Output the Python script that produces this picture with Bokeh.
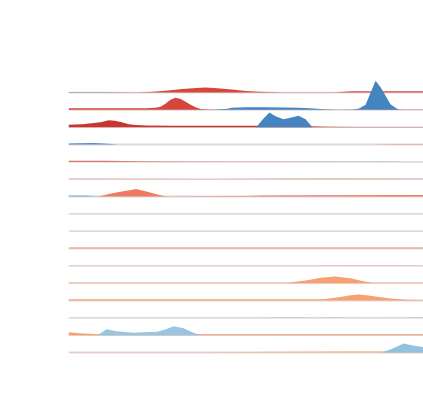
from bokeh.plotting import figure
from bokeh.models import Range1d, ColumnDataSource
from bokeh.embed import file_html
from bokeh.resources import INLINE

# ---- data: 16 ridge rows, each with a warm and a cool density series ----
# x positions (0..100) and density heights for each series
r00_warm_x = [0, 20, 23.9, 28, 32, 36, 38.6, 42, 46, 50, 54, 60, 75, 80, 90, 100]
r00_warm_h = [0.2, 0.4, 0.8, 2, 3.5, 4.5, 5, 4.2, 3, 1.5, 0.8, 0.4, 0.3, 1.2, 1.3, 1.3]
r00_cool_x = [0, 10, 18]
r00_cool_h = [0.3, 0.2, 0]

r01_warm_x = [0, 22, 24.5, 25.9, 27.3, 28.7, 30.1, 31.5, 33, 34.4, 35.8, 37.2, 40, 45, 100]
r01_warm_h = [1.5, 1.5, 2, 3, 6, 10, 12, 11, 8, 5, 2.5, 0.8, 0.3, 0.2, 0.3]
r01_cool_x = [40, 44.8, 46, 50, 55, 60, 65, 68, 72, 76, 80, 81.7, 83.7, 84.5, 86.5, 88, 90.7, 92.1, 93, 95]
r01_cool_h = [0, 1, 2, 2.5, 2.5, 2.3, 2, 1.5, 0.6, 0.2, 0.3, 1, 5, 12, 29, 22, 5.5, 2, 0.3, 0]

r02_warm_x = [0, 4, 9, 11.3, 13, 15, 17, 19, 22, 30, 50, 62, 68, 72, 80, 100]
r02_warm_h = [2.5, 3, 5, 7, 6.5, 5, 3, 2.2, 1.6, 1.5, 1.4, 1.4, 1, 0.4, 0.1, 0.1]
r02_cool_x = [52.9, 54.5, 56.6, 58.3, 60.6, 62.5, 64.8, 66.8, 68.7]
r02_cool_h = [0, 7, 14.7, 11, 8, 9.5, 11.4, 8, 0]

r03_warm_x = [85, 92, 100]
r03_warm_h = [0, 0.4, 0.5]
r03_cool_x = [0, 3, 7, 10, 14]
r03_cool_h = [1, 1.2, 1.5, 1, 0]

r04_warm_x = [0, 10, 20, 35, 100]
r04_warm_h = [1.2, 1.2, 0.6, 0.3, 0.2]
r04_cool_x = [62, 70, 80, 90, 95]
r04_cool_h = [0, 0.4, 0.3, 0.5, 0]

r05_warm_x = [0, 40, 73, 100]
r05_warm_h = [0.4, 0.3, 0.6, 0.4]
r05_cool_x = []
r05_cool_h = []

r06_warm_x = [8, 9, 12, 15, 18, 19, 22, 25, 27.3, 30, 50, 55, 70, 100]
r06_warm_h = [0, 0.5, 3, 5, 6.8, 7.4, 5, 2, 0.3, 0.3, 0.6, 1, 1.2, 1.4]
r06_cool_x = [0, 5, 9]
r06_cool_h = [1, 1, 0]

r07_warm_x = []
r07_warm_h = []
r07_cool_x = []
r07_cool_h = []

r08_warm_x = []
r08_warm_h = []
r08_cool_x = []
r08_cool_h = []

r09_warm_x = [0, 50, 100]
r09_warm_h = [0.9, 0.9, 0.9]
r09_cool_x = [96, 100]
r09_cool_h = [0, 0.4]

r10_warm_x = [0, 70, 80, 100]
r10_warm_h = [0.4, 0.4, 0.6, 0.4]
r10_cool_x = []
r10_cool_h = []

r11_warm_x = [0, 55, 61.7, 67.3, 71, 75.2, 79.4, 83.1, 85.6, 90, 100]
r11_warm_h = [0.3, 0.3, 0.4, 3, 5.5, 6.7, 5, 2, 0.5, 0.3, 0.3]
r11_cool_x = []
r11_cool_h = []

r12_warm_x = [0, 60, 70, 71.8, 76.6, 79, 81.7, 84, 86.5, 90.7, 95.5, 100]
r12_warm_h = [1.2, 1.2, 1.2, 1.3, 3.5, 5, 6, 5.3, 4, 2, 0.8, 0.5]
r12_cool_x = []
r12_cool_h = []

r13_warm_x = [0, 100]
r13_warm_h = [0.2, 0.2]
r13_cool_x = [50, 55, 62, 70, 75, 78, 85, 95, 100]
r13_cool_h = [0, 0.3, 0.5, 0.3, 0.5, 0.3, 0.2, 0.3, 0.8]

r14_warm_x = [0, 3, 8.5, 12, 20, 100]
r14_warm_h = [3, 2, 0.9, 0.9, 0.8, 0.8]
r14_cool_x = [8.2, 10.7, 13.5, 16, 18.3, 21.1, 25, 27.5, 29.6, 32.4, 35.2, 37.2]
r14_cool_h = [0, 6, 3.8, 3.2, 2.5, 3, 3.5, 6, 9, 7, 2.5, 0]

r15_warm_x = [0, 40, 60, 80, 100]
r15_warm_h = [0.2, 0.3, 0.7, 1, 1]
r15_cool_x = [87.9, 90.7, 94.4, 97, 100]
r15_cool_h = [0, 3, 9, 7, 5.5]

warm_colors = ["#d6473b", "#d6473b", "#c8372f", "#e49484", "#d8604f", "#e8a090",
               "#ee7a62", "#f0a890", "#f0a890", "#f09a80", "#f4b49a", "#f7a072",
               "#f7a072", "#f5b597", "#f7a072", "#f7a880"]
cool_colors = ["#4a88c0", "#4484c1", "#4484c1", "#4e8bc4", "#a8cfe4", "#a8cfe4",
               "#7aaed6", "#a8cfe4", "#a8cfe4", "#a8cfe4", "#a8cfe4", "#a8cfe4",
               "#a8cfe4", "#a8cfe4", "#96c6e1", "#92c2df"]

rows = [
    (r00_warm_x, r00_warm_h, r00_cool_x, r00_cool_h),
    (r01_warm_x, r01_warm_h, r01_cool_x, r01_cool_h),
    (r02_warm_x, r02_warm_h, r02_cool_x, r02_cool_h),
    (r03_warm_x, r03_warm_h, r03_cool_x, r03_cool_h),
    (r04_warm_x, r04_warm_h, r04_cool_x, r04_cool_h),
    (r05_warm_x, r05_warm_h, r05_cool_x, r05_cool_h),
    (r06_warm_x, r06_warm_h, r06_cool_x, r06_cool_h),
    (r07_warm_x, r07_warm_h, r07_cool_x, r07_cool_h),
    (r08_warm_x, r08_warm_h, r08_cool_x, r08_cool_h),
    (r09_warm_x, r09_warm_h, r09_cool_x, r09_cool_h),
    (r10_warm_x, r10_warm_h, r10_cool_x, r10_cool_h),
    (r11_warm_x, r11_warm_h, r11_cool_x, r11_cool_h),
    (r12_warm_x, r12_warm_h, r12_cool_x, r12_cool_h),
    (r13_warm_x, r13_warm_h, r13_cool_x, r13_cool_h),
    (r14_warm_x, r14_warm_h, r14_cool_x, r14_cool_h),
    (r15_warm_x, r15_warm_h, r15_cool_x, r15_cool_h),
]

SCALE = 1 / 17.33  # density -> row units
n = len(rows)

p = figure(width=423, height=413, output_backend="svg", toolbar_location=None,
           x_range=Range1d(0, 100), y_range=Range1d(-3.52, 20.31),
           min_border_left=68, min_border_right=0, min_border_top=0, min_border_bottom=0)
p.axis.visible = False
p.grid.visible = False
p.outline_line_color = None
p.background_fill_color = "white"
p.border_fill_color = "white"

for i, (wx, wh, cx, ch) in enumerate(rows):
    base = n - 1 - i
    p.line(x=[0, 100], y=[base, base], line_color="#e2dada", line_width=1.8)
    for xs, hs, col in ((wx, wh, warm_colors[i]), (cx, ch, cool_colors[i])):
        if not xs:
            continue
        src = ColumnDataSource(dict(x=xs, y1=[base] * len(xs),
                                    y2=[base + h * SCALE for h in hs]))
        p.varea(x="x", y1="y1", y2="y2", source=src, fill_color=col, fill_alpha=1.0)

open("out.html", "w").write(file_html(p, INLINE))
